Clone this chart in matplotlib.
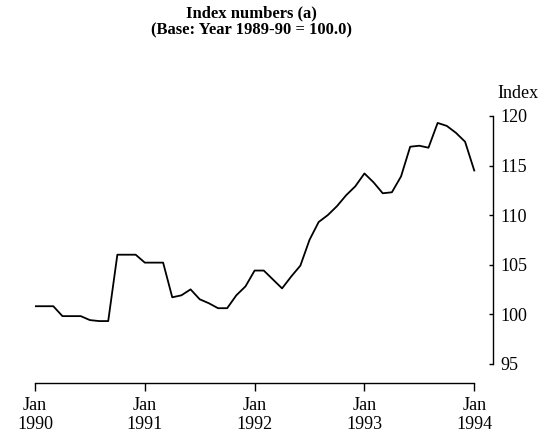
import matplotlib
matplotlib.use('Agg')
import matplotlib.pyplot as plt
import numpy as np

# monthly index values, Jan 1990 .. Jan 1994
index_values = [100.8, 100.8, 100.8, 99.8, 99.8, 99.8, 99.4, 99.3, 99.3, 106.0, 106.0, 106.0,
                105.2, 105.2, 105.2, 101.7, 101.9, 102.5, 101.5, 101.1, 100.6, 100.6, 101.9, 102.8,
                104.4, 104.4, 103.5, 102.6, 103.8, 104.9, 107.5, 109.3, 110.0, 110.9, 112.0, 112.9,
                114.2, 113.3, 112.2, 112.3, 113.9, 116.9, 117.0, 116.8, 119.3, 119.0, 118.3, 117.4,
                114.5]
year_ticks = [0, 12, 24, 36, 48]
year_labels = ['Jan\n1990', 'Jan\n1991', 'Jan\n1992', 'Jan\n1993', 'Jan\n1994']
y_ticks = [95, 100, 105, 110, 115, 120]

plt.rcParams['font.family'] = ['Liberation Serif', 'DejaVu Serif']

fig = plt.figure(figsize=(5.46, 4.41), dpi=100)
W, H = 546, 441
left, right, top, bottom = 35, 493, 116, 383
ax = fig.add_axes([left / W, 1 - bottom / H, (right - left) / W, (bottom - top) / H])

months = np.arange(len(index_values))
ax.plot(months, index_values, color='black', lw=1.3)

ax.set_xlim(0, 50.05)
ax.set_ylim(93.05, 120)

for s in ['top', 'left']:
    ax.spines[s].set_visible(False)
ax.spines['bottom'].set_bounds(0, 48)
ax.spines['right'].set_bounds(95, 120)
ax.spines['bottom'].set_linewidth(1.0)
ax.spines['right'].set_linewidth(1.0)

ax.set_xticks(year_ticks)
ax.set_xticklabels(year_labels, fontsize=13, linespacing=1.15)
ax.tick_params(axis='x', direction='out', length=6, width=1, pad=4)

ax.yaxis.tick_right()
ax.set_yticks(y_ticks)
ax.set_yticklabels([str(v) for v in y_ticks], fontsize=13)
ax.tick_params(axis='y', direction='in', length=3, width=1, pad=5)

fig.text(0.461, 1 - 13 / H, 'Index numbers (a)', ha='center', va='center',
         fontsize=12, fontweight='bold')
fig.text(0.461, 1 - 30 / H, '(Base: Year 1989-90 = 100.0)', ha='center', va='center',
         fontsize=12, fontweight='bold')
fig.text(518 / W, 1 - 93 / H, 'Index', ha='center', va='center', fontsize=13)

fig.savefig('out.png', dpi=100)
